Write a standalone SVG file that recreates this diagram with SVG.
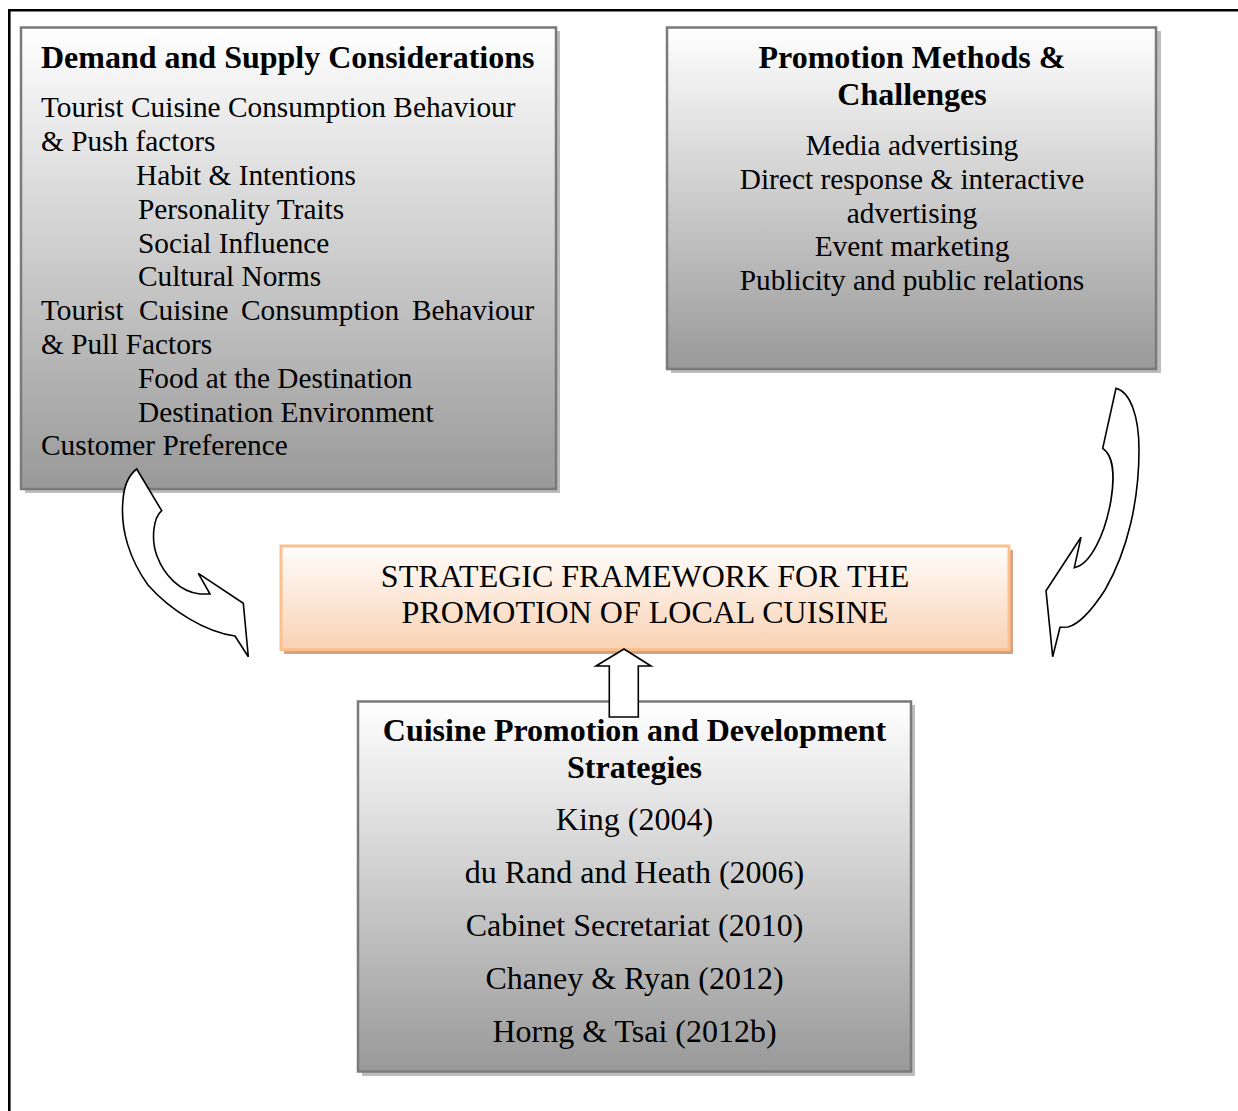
<svg xmlns="http://www.w3.org/2000/svg" width="1238" height="1111" viewBox="0 0 1238 1111">
  <style>
    text { font-family: "Liberation Serif", "Times New Roman", serif; fill: #000; }
    .title { font-size: 32px; font-weight: bold; }
    .body { font-size: 29.33px; }
    .big { font-size: 32px; }
    .mid { text-anchor: middle; }
    .box { fill: url(#grayFill); stroke: #7a7a7a; stroke-width: 2.5; }
    .shadow { fill: #bdbdbd; }
    .arrow { fill: #fff; stroke: #000; stroke-width: 1.6; stroke-linejoin: miter; }
  </style>
  <defs>
    <linearGradient id="grayFill" x1="0" y1="0" x2="0" y2="1">
      <stop offset="0" stop-color="#ffffff"/>
      <stop offset="1" stop-color="#999999"/>
    </linearGradient>
    <linearGradient id="peachFill" x1="0" y1="0" x2="0" y2="1">
      <stop offset="0" stop-color="#fffdfb"/>
      <stop offset="1" stop-color="#f9d2b4"/>
    </linearGradient>
  </defs>

  <!-- page frame (top and left rules) -->
  <path d="M9.3,1111 V10.3 H1238" fill="none" stroke="#000" stroke-width="2.6"/>

  <!-- Demand and Supply -->
  <g id="demand-supply">
    <rect class="shadow" x="25" y="31" width="535" height="462"/>
    <rect class="box" x="21" y="27.5" width="535" height="461.5"/>
    <text class="title" x="41" y="68">Demand and Supply Considerations</text>
    <g class="body">
      <text x="41" y="117.3">Tourist Cuisine Consumption Behaviour</text>
      <text x="41" y="151.1">&amp; Push factors</text>
      <text x="136" y="184.9">Habit &amp; Intentions</text>
      <text x="138" y="218.7">Personality Traits</text>
      <text x="138" y="252.5">Social Influence</text>
      <text x="138" y="286.3">Cultural Norms</text>
      <text y="320.1"><tspan x="41">Tourist</tspan><tspan x="139">Cuisine</tspan><tspan x="241">Consumption</tspan><tspan x="412">Behaviour</tspan></text>
      <text x="41" y="353.9">&amp; Pull Factors</text>
      <text x="138" y="387.7">Food at the Destination</text>
      <text x="138" y="421.5">Destination Environment</text>
      <text x="41" y="455.3">Customer Preference</text>
    </g>
  </g>

  <!-- Promotion Methods -->
  <g id="promotion-methods">
    <rect class="shadow" x="671" y="31" width="490" height="342"/>
    <rect class="box" x="667" y="27.5" width="489" height="341.5"/>
    <text class="title mid" x="912" y="67.5">Promotion Methods &amp;</text>
    <text class="title mid" x="912" y="104.5">Challenges</text>
    <g class="body mid">
      <text x="912" y="155">Media advertising</text>
      <text x="912" y="189">Direct response &amp; interactive</text>
      <text x="912" y="222.5">advertising</text>
      <text x="912" y="256">Event marketing</text>
      <text x="912" y="290">Publicity and public relations</text>
    </g>
  </g>

  <!-- Central framework -->
  <g id="framework">
    <rect x="284" y="550" width="729" height="104" fill="#d4a382"/>
    <rect x="281" y="546" width="728" height="103.5" fill="url(#peachFill)" stroke="#fbc08d" stroke-width="3"/>
    <text class="big mid" x="645" y="586.5">STRATEGIC FRAMEWORK FOR THE</text>
    <text class="big mid" x="645" y="623">PROMOTION OF LOCAL CUISINE</text>
  </g>

  <!-- Cuisine Promotion and Development -->
  <g id="strategies">
    <rect class="shadow" x="362" y="705" width="553" height="371"/>
    <rect class="box" x="358" y="701.5" width="553" height="370"/>
    <text class="title mid" x="634.5" y="741">Cuisine Promotion and Development</text>
    <text class="title mid" x="634.5" y="778">Strategies</text>
    <g class="big mid">
      <text x="634.5" y="830">King (2004)</text>
      <text x="634.5" y="883">du Rand and Heath (2006)</text>
      <text x="634.5" y="936">Cabinet Secretariat (2010)</text>
      <text x="634.5" y="989">Chaney &amp; Ryan (2012)</text>
      <text x="634.5" y="1042">Horng &amp; Tsai (2012b)</text>
    </g>
  </g>

  <!-- connectors: block arrows feeding the framework -->
  <g id="connectors">
    <path class="arrow" d="M136.7,469 L161.7,510.7 C153,518 151,540 157,556 C164,575 180,592 200,594 L210,594 L198.3,573.3 L243.3,603.3 L248.3,656.7 L235,636 C205,632 170,610 148,585 C130,560 120,530 123,500 C124,485 129,475 136.7,469 Z"/>
    <path class="arrow" d="M1116,388.3 C1130,392 1139,415 1139,450 C1139,500 1128,550 1105,590 C1092,610 1080,624 1068,627 L1060,627.3 L1052.7,656.7 L1046,590.7 L1081,537.3 L1074.3,567.7 C1090,565 1105,535 1111,500 C1115,475 1113,455 1102.7,448.3 Z"/>
    <path class="arrow" d="M624,649 L651,666 L638.3,666 L638.3,717 L609.3,717 L609.3,666 L596,666 Z"/>
  </g>
</svg>
